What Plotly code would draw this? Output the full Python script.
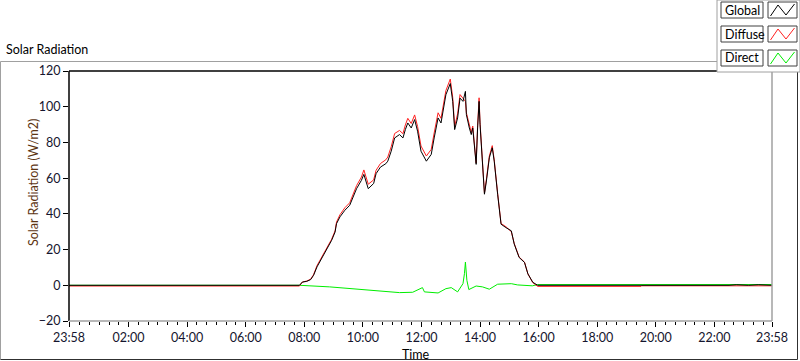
import plotly.graph_objects as go

# ---------------- data ----------------
global_times = ["23:58", "07:50", "07:56", "08:05", "08:13", "08:19", "08:26", "08:36", "08:46", "08:56",
                "09:03", "09:06", "09:13", "09:23", "09:33", "09:40", "09:47", "09:57", "10:02", "10:11",
                "10:22", "10:27", "10:36", "10:47", "10:51", "10:58", "11:05", "11:15", "11:22", "11:27",
                "11:32", "11:39", "11:46", "11:52", "11:59", "12:10", "12:20", "12:26", "12:34", "12:40",
                "12:44", "12:50", "12:59", "13:04", "13:08", "13:14", "13:19", "13:25", "13:30", "13:32",
                "13:38", "13:42", "13:45", "13:49", "13:52", "13:55", "13:58", "14:00", "14:05", "14:09",
                "14:13", "14:19", "14:25", "14:29", "14:36", "14:43", "14:53", "15:04", "15:10", "15:20",
                "15:31", "15:38", "15:48", "15:58", "22:30", "22:45", "23:10", "23:30", "23:58"]
global_vals = [0, 0, 1.8, 2.2, 3.2, 5.6, 10.3, 15.0, 20.5, 25.2,
               29.8, 34.5, 38.3, 42.0, 44.8, 49.4, 54.1, 58.8, 62.1, 54.1,
               57.0, 62.5, 66.2, 68.1, 69.5, 75.1, 82.5, 84.4, 82.5, 87.2,
               90.9, 88.1, 92.8, 86.3, 75.1, 69.5, 73.3, 82.5, 93.7, 90.9,
               97.4, 106.7, 113.0, 103.0, 87.2, 93.7, 104.8, 103.0, 108.6, 95.6,
               88.1, 84.4, 88.1, 77.0, 67.7, 88.1, 103.0, 90.0, 64.0, 51.0,
               58.4, 71.4, 77.0, 69.5, 51.0, 34.2, 32.3, 30.5, 23.1, 15.6,
               12.8, 6.4, 1.7, 0, 0, 0.3, 0, 0.3, 0]

diffuse_times = ["23:58", "07:50", "07:56", "08:05", "08:13", "08:19", "08:26", "08:36", "08:46", "08:56",
                 "09:03", "09:06", "09:13", "09:23", "09:33", "09:40", "09:47", "09:57", "10:02", "10:11",
                 "10:22", "10:27", "10:36", "10:47", "10:51", "10:58", "11:05", "11:15", "11:22", "11:27",
                 "11:32", "11:39", "11:46", "11:52", "11:59", "12:10", "12:20", "12:26", "12:34", "12:40",
                 "12:44", "12:50", "12:59", "13:04", "13:08", "13:14", "13:19", "13:25", "13:30", "13:32",
                 "13:38", "13:42", "13:45", "13:49", "13:52", "13:55", "13:58", "14:00", "14:05", "14:09",
                 "14:13", "14:19", "14:25", "14:29", "14:36", "14:43", "14:53", "15:04", "15:10", "15:20",
                 "15:31", "15:38", "15:48", "15:58", "19:30", "19:31", "23:58"]
diffuse_vals = [-0.4, -0.4, 1.8, 2.4, 3.4, 6.0, 11.0, 15.8, 21.2, 25.8,
                30.5, 35.4, 39.5, 43.4, 46.2, 51.0, 55.8, 60.6, 64.6, 56.6,
                59.0, 64.4, 68.2, 70.3, 71.8, 77.6, 85.0, 86.7, 84.9, 89.8,
                93.5, 90.6, 95.4, 89.0, 78.0, 72.4, 76.1, 85.3, 96.6, 93.5,
                100.0, 109.0, 115.5, 105.2, 89.0, 96.0, 106.8, 104.6, 103.0, 96.6,
                89.4, 85.6, 89.2, 78.0, 68.5, 89.5, 105.0, 91.0, 64.8, 51.6,
                59.4, 72.4, 78.2, 70.2, 51.5, 34.6, 32.8, 30.0, 23.4, 15.8,
                13.0, 6.4, 1.5, -0.6, -0.6, -0.3, -0.3]

direct_times = ["23:58", "07:50", "08:52", "09:32", "10:20", "10:34", "11:08", "11:15", "11:42", "12:02",
                "12:06", "12:34", "12:50", "13:01", "13:14", "13:25", "13:28", "13:30", "13:33", "13:37",
                "13:52", "14:05", "14:19", "14:36", "15:04", "15:17", "15:47", "15:58", "23:58"]
direct_vals = [0, 0, -0.9, -1.9, -2.8, -3.2, -3.9, -4.1, -3.9, -1.3,
               -3.7, -4.3, -1.9, -1.3, -3.7, 0.9, 6.5, 13.0, 2.8, -2.4,
               -0.4, -0.9, -2.2, 0.6, 0.9, 0.2, -0.3, 0.4, 0.4]

tick_labels = ["23:58", "02:00", "04:00", "06:00", "08:00", "10:00", "12:00",
               "14:00", "16:00", "18:00", "20:00", "22:00", "23:58"]

series_names = ["Global", "Diffuse", "Direct"]
series_colors = ["#000000", "#ff2020", "#00ee00"]

DAY0 = "2024-01-01 "
DAY1 = "2024-01-02 "


def to_dt(times):
    out = []
    for i, t in enumerate(times):
        out.append((DAY0 if i == 0 else DAY1) + t)
    return out


tick_vals = to_dt(tick_labels)

# ---------------- geometry helpers (layout decoration) ----------------
W, H = 800, 361
L, R, T, B = 69, 772, 71, 321


def px(x):
    return (x - L) / (R - L)


def py(y):
    return (B - y) / (B - T)


FONT = "Segoe UI, Lato, 'Noto Sans', sans-serif"
TXT = "#15152e"

fig = go.Figure()
# draw Direct first, Global last (on top)
for name, times, vals, col in [("Direct", direct_times, direct_vals, series_colors[2]),
                               ("Diffuse", diffuse_times, diffuse_vals, series_colors[1]),
                               ("Global", global_times, global_vals, series_colors[0])]:
    fig.add_trace(go.Scatter(x=to_dt(times), y=vals, mode="lines", name=name,
                             line=dict(color=col, width=1), showlegend=False,
                             hoverinfo="skip"))

shapes = []
# plot frame
shapes.append(dict(type="line", xref="paper", yref="paper", x0=0, x1=1, y0=1, y1=1,
                   line=dict(color="#000000", width=1.5)))
shapes.append(dict(type="line", xref="paper", yref="paper", x0=0, x1=0, y0=0, y1=1,
                   line=dict(color="#000000", width=1.5)))
shapes.append(dict(type="line", xref="paper", yref="paper", x0=0, x1=1, y0=0, y1=0,
                   line=dict(color="#a0a0a0", width=1.5)))
shapes.append(dict(type="line", xref="paper", yref="paper", x0=1, x1=1, y0=0, y1=1,
                   line=dict(color="#a0a0a0", width=1.5)))
# outer panel frame
shapes.append(dict(type="line", xref="paper", yref="paper", x0=px(0.5), x1=px(717), y0=py(61.5), y1=py(61.5),
                   line=dict(color="#a0a0a0", width=1)))
shapes.append(dict(type="line", xref="paper", yref="paper", x0=px(0.5), x1=px(0.5), y0=py(61.5), y1=py(359.5),
                   line=dict(color="#a0a0a0", width=1)))
shapes.append(dict(type="line", xref="paper", yref="paper", x0=px(0.5), x1=px(797.5), y0=py(359.5), y1=py(359.5),
                   line=dict(color="#303030", width=1)))
shapes.append(dict(type="line", xref="paper", yref="paper", x0=px(797.5), x1=px(797.5), y0=py(72), y1=py(359.5),
                   line=dict(color="#303030", width=1)))
# legend panel
shapes.append(dict(type="rect", xref="paper", yref="paper", x0=px(717), x1=px(800), y0=py(72), y1=py(0),
                   line=dict(color="#a0a0a0", width=1), fillcolor="#ffffff", layer="above"))

annotations = []
row_tops = [2, 26, 50]
for name, col, top in zip(series_names, series_colors, row_tops):
    bot = top + 16
    shapes.append(dict(type="rect", xref="paper", yref="paper", x0=px(721), x1=px(763), y0=py(bot), y1=py(top),
                       line=dict(color="#404040", width=1), fillcolor="#ffffff", layer="above"))
    shapes.append(dict(type="rect", xref="paper", yref="paper", x0=px(768), x1=px(797), y0=py(bot), y1=py(top),
                       line=dict(color="#404040", width=1), fillcolor="#ffffff", layer="above"))
    zig = [(770.5, bot - 2), (778, top + 3), (786, bot - 3), (794.5, top + 2)]
    path = "M " + " L ".join(f"{px(a):.5f},{py(b):.5f}" for a, b in zig)
    shapes.append(dict(type="path", xref="paper", yref="paper", path=path,
                       line=dict(color=col, width=1), layer="above"))
    annotations.append(dict(text=name, xref="paper", yref="paper", x=px(723), y=py(top + 8),
                            xanchor="left", yanchor="middle", showarrow=False,
                            font=dict(family=FONT, size=12.5, color="#000000")))

annotations.append(dict(text="Solar Radiation", xref="paper", yref="paper", x=px(4), y=py(50),
                        xanchor="left", yanchor="middle", showarrow=False,
                        font=dict(family=FONT, size=12.5, color="#000000")))
annotations.append(dict(text="Solar Radiation (W/m2)", xref="paper", yref="paper", x=px(33), y=py(183),
                        xanchor="center", yanchor="middle", textangle=-90, showarrow=False,
                        font=dict(family=FONT, size=12.5, color="#5c3412")))
annotations.append(dict(text="Time", xref="paper", yref="paper", x=px(416), y=py(354),
                        xanchor="center", yanchor="middle", showarrow=False,
                        font=dict(family=FONT, size=12.5, color="#000000")))

fig.update_layout(
    width=W, height=H, autosize=False,
    margin=dict(l=L, r=W - R, t=T, b=H - B, pad=0),
    paper_bgcolor="#ffffff", plot_bgcolor="#ffffff",
    shapes=shapes, annotations=annotations,
    font=dict(family=FONT, size=12, color=TXT),
    showlegend=False,
)
fig.update_xaxes(
    type="date", range=[tick_vals[0], tick_vals[-1]],
    tickmode="array", tickvals=tick_vals, ticktext=tick_labels,
    ticks="outside", ticklen=5, tickwidth=1, tickcolor="#000000",
    minor=dict(dtick=20 * 60 * 1000, tick0="2024-01-02 00:00", ticks="outside",
               ticklen=3, tickwidth=1, tickcolor="#000000"),
    showgrid=False, zeroline=False, showline=False,
    tickfont=dict(family=FONT, size=12.5, color=TXT),
)
fig.update_yaxes(
    range=[-20, 120], tickmode="linear", tick0=-20, dtick=20,
    ticks="outside", ticklen=5, tickwidth=1, tickcolor="#000000",
    showgrid=False, zeroline=False, showline=False,
    tickfont=dict(family=FONT, size=12.5, color=TXT),
)

fig.write_html("out.html", config={"displayModeBar": False},
               post_script="document.body.style.margin='0';document.body.style.overflow='hidden';")
